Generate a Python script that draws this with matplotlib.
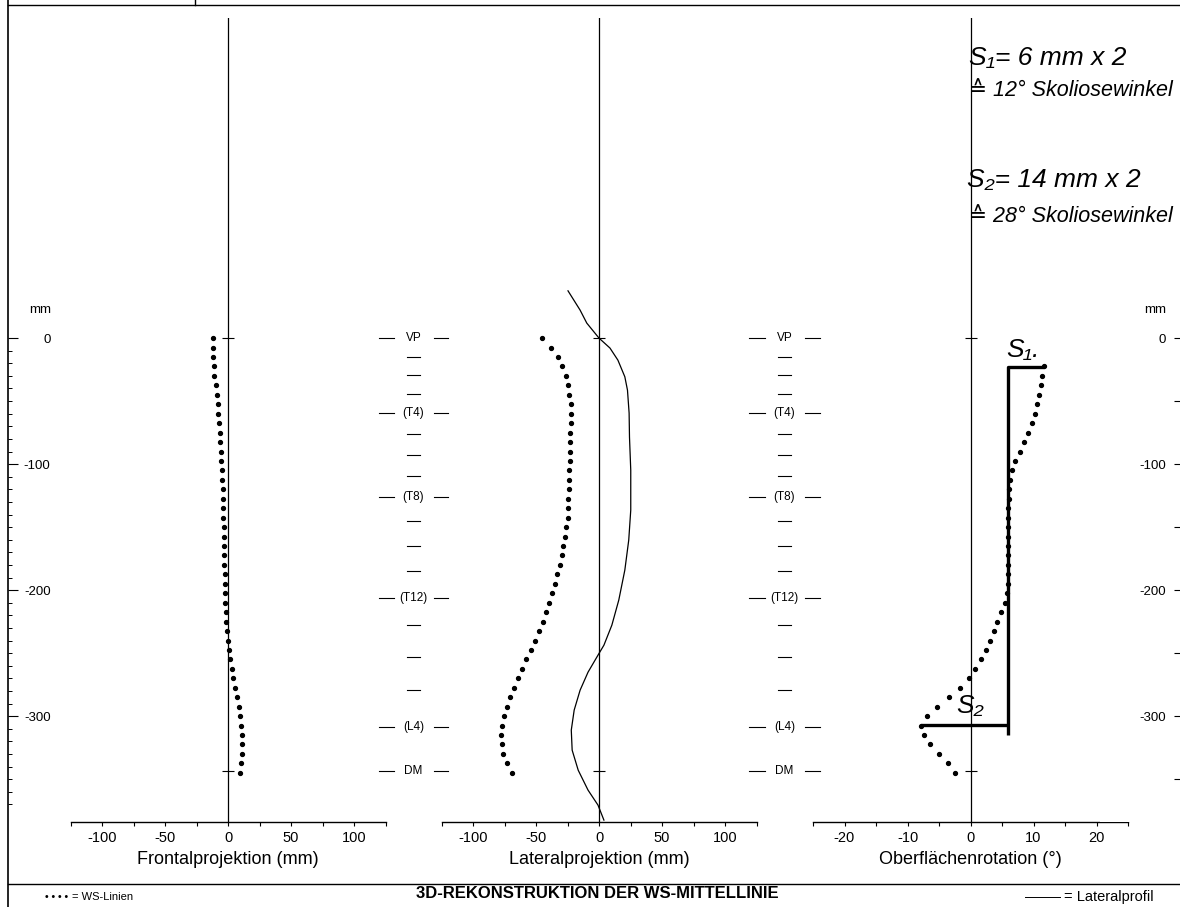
import matplotlib
matplotlib.use("Agg")
import matplotlib.pyplot as plt
import matplotlib.transforms as mtransforms
from matplotlib.lines import Line2D
from matplotlib.ticker import MultipleLocator, FixedLocator, FuncFormatter

plt.rcParams['font.family'] = ['Liberation Sans', 'DejaVu Sans']
plt.rcParams['axes.unicode_minus'] = False

W, H = 1180, 907

# vertebra levels (mm below VP)
level_y = [0, -15.1, -29.4, -44.4, -59.5, -76.2, -92.9, -109.5, -126.2,
           -145.2, -165.1, -184.9, -206.3, -227.8, -253.2, -279.4, -308.7, -343.7]
level_lab = ['VP', '', '', '', '(T4)', '', '', '', '(T8)',
             '', '', '', '(T12)', '', '', '', '(L4)', 'DM']

# depth of the sampled points (mm), one dot every 7.5 mm
ws_depth = [-7.5 * i for i in range(47)]

frontal = [-12.1, -12.1, -11.9, -11.3, -10.9, -9.7, -8.7, -8.3, -7.9, -7.1,
           -6.3, -6.3, -5.9, -5.5, -4.8, -4.4, -4.2, -4.0, -3.8, -3.6,
           -3.4, -3.2, -3.0, -2.9, -2.8, -2.6, -2.4, -2.2, -2.0, -1.6,
           -1.2, -0.8, -0.2, 0.6, 1.6, 2.8, 4.2, 5.6, 7.0, 8.4,
           9.6, 10.6, 11.0, 11.2, 11.0, 10.4, 9.6]

lateral = [-44.9, -37.8, -32.3, -29.1, -26.0, -24.4, -23.6, -22.4, -22.4, -22.4,
           -22.8, -23.0, -23.2, -23.4, -23.6, -23.8, -24.0, -24.3, -24.6, -25.0,
           -26.0, -27.0, -28.2, -29.6, -31.2, -33.0, -35.0, -37.0, -39.4, -42.0,
           -44.8, -47.8, -51.0, -54.2, -57.6, -61.0, -64.4, -67.6, -70.6, -73.2,
           -75.2, -76.6, -77.4, -77.2, -75.8, -73.0, -69.0]

# surface rotation starts at the 4th sample
rotation = [11.6, 11.35, 11.15, 10.8, 10.5, 10.25, 9.75, 9.2, 8.5, 7.8,
            7.1, 6.65, 6.2, 6.1, 6.05, 6.0, 6.0, 6.0, 6.0, 6.0,
            6.0, 6.0, 6.0, 5.95, 5.8, 5.45, 4.9, 4.25, 3.7, 3.15,
            2.5, 1.7, 0.75, -0.3, -1.65, -3.35, -5.3, -6.9, -7.8, -7.4,
            -6.4, -5.0, -3.6, -2.5]

# lateral profile (solid line)
prof_x = [-24.6, -15.0, -9.7, 0.0, 8.7, 15.0, 20.5, 22.6, 23.9, 24.2, 25.2, 25.2,
          23.6, 20.5, 15.7, 10.2, 3.9, -0.8, -8.7, -15.0, -19.7, -22.0, -21.3,
          -16.5, -8.7, -0.8, 3.9]
prof_y = [37.5, 22.2, 11.9, 0.0, -7.9, -17.5, -30.7, -41.3, -59.5, -78.6, -104.8,
          -136.5, -160.3, -184.1, -207.9, -227.8, -243.7, -251.6, -265.1, -279.4,
          -295.2, -311.1, -327.0, -342.9, -358.7, -370.6, -382.5]

# hand drawn measuring lines in the rotation panel
s1_x = [11.6, 5.9, 5.9]
s1_y = [-22.8, -22.8, -315.0]
s2_x = [-7.8, 5.9]
s2_y = [-307.0, -307.0]


def fx(px):
    return px / W


def fy(py):
    return 1 - py / H


fig = plt.figure(figsize=(W / 100, H / 100), dpi=100)
ylim = (-384, 254)


def panel(left, xlim, step, lab_step, lab_max, xlabel):
    ax = fig.add_axes([fx(left), fy(822), 315 / W, 804 / H])
    ax.set_xlim(*xlim)
    ax.set_ylim(*ylim)
    for s in ['top', 'left', 'right']:
        ax.spines[s].set_visible(False)
    ax.spines['bottom'].set_linewidth(1.0)
    ax.set_yticks([])
    ax.xaxis.set_major_locator(MultipleLocator(step))
    ax.xaxis.set_major_formatter(FuncFormatter(
        lambda v, p: f"{v:g}" if abs(v % lab_step) < 1e-6 and abs(v) <= lab_max else ''))
    ax.tick_params(axis='x', direction='out', length=3, width=0.8, pad=3.5, labelsize=10.5)
    ax.set_xlabel(xlabel, fontsize=13, labelpad=4)
    ax.axvline(0, color='k', lw=0.9)
    ax.plot([0, 0], [0, level_y[-1]], ls='none', marker='_', ms=8, mew=0.8, color='k')
    return ax


ax1 = panel(70.5, (-125, 125), 25, 50, 100, 'Frontalprojektion (mm)')
ax2 = panel(441.5, (-125, 125), 25, 50, 100, 'Lateralprojektion (mm)')
ax3 = panel(813, (-25, 25), 5, 10, 20, 'Oberflächenrotation (°)')

ax1.plot(frontal, ws_depth, ls='none', marker='o', ms=2.8, color='k')
ax2.plot(lateral, ws_depth, ls='none', marker='o', ms=2.8, color='k')
ax2.plot(prof_x, prof_y, color='k', lw=0.9, clip_on=False)
ax3.plot(rotation, ws_depth[3:], ls='none', marker='o', ms=2.8, color='k')

ax3.plot(s1_x, s1_y, color='k', lw=2.4, solid_capstyle='butt')
ax3.plot(s2_x, s2_y, color='k', lw=2.4, solid_capstyle='butt')
ax3.text(8.4, -9.5, 'S₁.', fontsize=19, style='italic', ha='center', va='center')
ax3.text(0.0, -292, 'S₂', fontsize=19, style='italic', ha='center', va='center')

# left mm scale
axl = fig.add_axes([fx(7.5), fy(822), 1 / W, 804 / H])
axl.set_ylim(*ylim)
axl.set_xticks([])
for s in axl.spines.values():
    s.set_visible(False)
axl.yaxis.set_major_locator(FixedLocator([0, -100, -200, -300]))
axl.yaxis.set_minor_locator(FixedLocator([-10 * i for i in range(38)]))
axl.tick_params(axis='y', which='major', direction='in', length=7, width=0.8,
                pad=-31, labelsize=9.5)
axl.tick_params(axis='y', which='minor', direction='in', length=3, width=0.7)

# right mm scale
axr = fig.add_axes([fx(1100), fy(822), 81 / W, 804 / H])
axr.set_ylim(*ylim)
axr.set_xticks([])
for s in axr.spines.values():
    s.set_visible(False)
axr.yaxis.tick_right()
axr.yaxis.set_major_locator(FixedLocator([-50 * i for i in range(8)]))
axr.yaxis.set_major_formatter(FuncFormatter(
    lambda v, p: f"{v:g}" if v % 100 == 0 else ''))
axr.tick_params(axis='y', direction='in', length=5, width=0.8, pad=-11, labelsize=9.5)
for lbl in axr.get_yticklabels():
    lbl.set_ha('right')

# "mm" captions of both scales
mm_trans = mtransforms.blended_transform_factory(fig.transFigure, axl.transData)
fig.text(fx(51), 22, 'mm', transform=mm_trans, fontsize=9.5, ha='right', va='center')
fig.text(fx(1166), 22, 'mm', transform=mm_trans, fontsize=9.5, ha='right', va='center')

# vertebra level columns
trans = mtransforms.blended_transform_factory(fig.transFigure, ax1.transData)
for cx in [413.5, 784.5]:
    for yl, lab in zip(level_y, level_lab):
        if lab:
            fig.text(fx(cx), yl, lab, transform=trans, fontsize=8.5, ha='center', va='center')
            fig.add_artist(Line2D([fx(cx - 35), fx(cx - 20)], [yl, yl], transform=trans,
                                  color='k', lw=0.8))
            fig.add_artist(Line2D([fx(cx + 20), fx(cx + 35)], [yl, yl], transform=trans,
                                  color='k', lw=0.8))
        else:
            fig.add_artist(Line2D([fx(cx - 6.5), fx(cx + 6.5)], [yl, yl], transform=trans,
                                  color='k', lw=0.8))

# page frame
fig.add_artist(Line2D([fx(7.5), fx(7.5)], [0, 1], color='k', lw=1.2))
fig.add_artist(Line2D([fx(7.5), 1], [fy(5), fy(5)], color='k', lw=1.0))
fig.add_artist(Line2D([fx(195), fx(195)], [fy(5), 1], color='k', lw=1.0))
fig.add_artist(Line2D([fx(7.5), 1], [fy(884), fy(884)], color='k', lw=1.0))

# footer
fig.text(fx(45), fy(897), '• • • •', fontsize=7.5, ha='left', va='center')
fig.text(fx(72), fy(897), '= WS-Linien', fontsize=8, ha='left', va='center')
fig.text(fx(597), fy(894), '3D-REKONSTRUKTION DER WS-MITTELLINIE', fontsize=12,
         fontweight='bold', ha='center', va='center')
fig.add_artist(Line2D([fx(1025), fx(1060)], [fy(897), fy(897)], color='k', lw=0.7))
fig.text(fx(1064), fy(897), '= Lateralprofil', fontsize=10.5, ha='left', va='center')

# handwritten notes
big = dict(fontsize=19, style='italic', ha='left', va='center')
small = dict(fontsize=15.5, style='italic', ha='left', va='center')
fig.text(fx(969), fy(58), 'S₁= 6 mm x 2', **big)
fig.text(fx(969), fy(90), '≙ 12° Skoliosewinkel', **small)
fig.text(fx(967), fy(180), 'S₂= 14 mm x 2', **big)
fig.text(fx(969), fy(216), '≙ 28° Skoliosewinkel', **small)

fig.savefig('out.png', dpi=100)
